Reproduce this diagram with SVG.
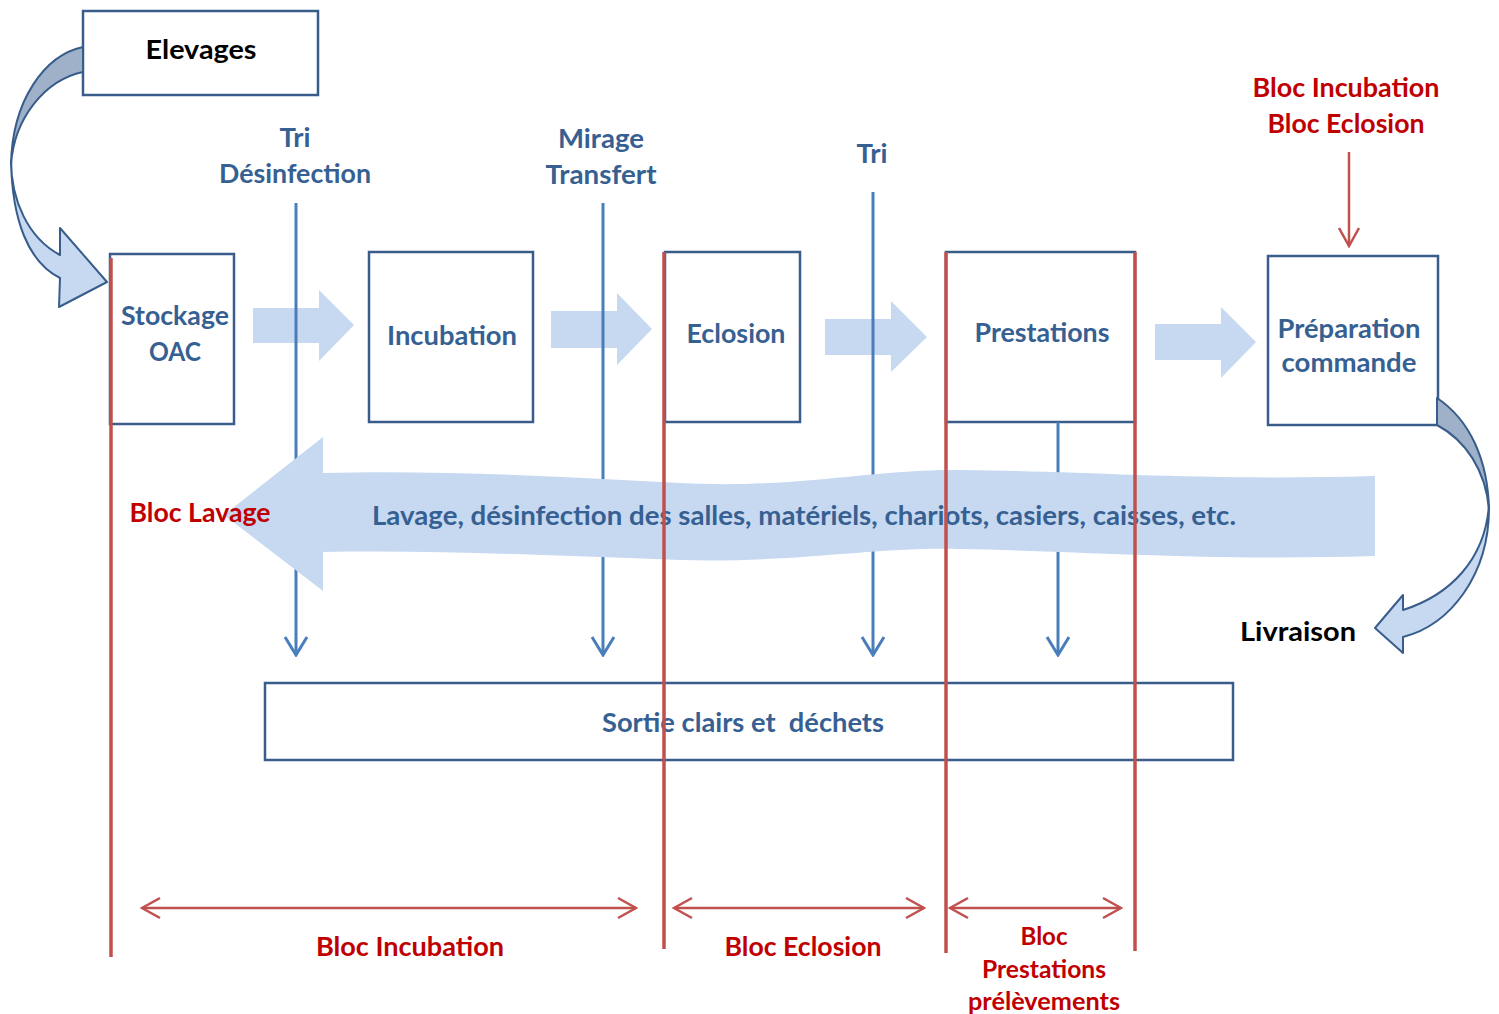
<svg xmlns="http://www.w3.org/2000/svg" width="1499" height="1014" viewBox="0 0 1499 1014">
<style>
text{font-family:Lato,"Open Sans","Liberation Sans",sans-serif;font-weight:bold;text-anchor:middle}
.box{fill:#fff;stroke:#385d8a;stroke-width:2.5}
.bt{fill:#376092;font-size:27px}
.rt{fill:#c00000;font-size:26px}
.kt{fill:#000;font-size:27px}
.blk{fill:#c6d9f1}
.bl{stroke:#4a7ebb;stroke-width:3;fill:none}
.rl{stroke:#c0504d;stroke-width:3.5;fill:none}
.cv{stroke:#385d8a;stroke-width:2;stroke-linejoin:round}
</style>
<defs>
<marker id="vb" viewBox="-21 -13 23 26" markerWidth="23" markerHeight="26" refX="0" refY="0" orient="auto" markerUnits="userSpaceOnUse">
<path d="M-18,-11 L0,0 L-18,11" fill="none" stroke="#4a7ebb" stroke-width="3"/>
</marker>
<marker id="vr" viewBox="-21 -13 23 26" markerWidth="23" markerHeight="26" refX="0" refY="0" orient="auto-start-reverse" markerUnits="userSpaceOnUse">
<path d="M-18,-10 L0,0 L-18,10" fill="none" stroke="#c0504d" stroke-width="2.5"/>
</marker>
</defs>
<rect width="1499" height="1014" fill="#fff"/>

<g id="elevages"><rect class="box" x="83" y="11" width="235" height="84"/><text class="kt" x="201" y="59" textLength="111" lengthAdjust="spacingAndGlyphs">Elevages</text></g>
<g id="stockage"><rect class="box" x="110" y="254" width="124" height="170"/><text class="bt" x="175" y="325" textLength="108" lengthAdjust="spacingAndGlyphs">Stockage</text><text class="bt" x="175" y="361" textLength="52" lengthAdjust="spacingAndGlyphs">OAC</text></g>
<g id="incubation"><rect class="box" x="369" y="252" width="164" height="170"/><text class="bt" x="452" y="345" textLength="130" lengthAdjust="spacingAndGlyphs">Incubation</text></g>
<g id="eclosion"><rect class="box" x="665" y="252" width="135" height="170"/><text class="bt" x="736" y="343" textLength="99" lengthAdjust="spacingAndGlyphs">Eclosion</text></g>
<g id="prestations"><rect class="box" x="946" y="252" width="189" height="170"/><text class="bt" x="1042" y="342" textLength="135" lengthAdjust="spacingAndGlyphs">Prestations</text></g>
<g id="preparation"><rect class="box" x="1268" y="256" width="170" height="169"/><text class="bt" x="1349" y="338" textLength="143" lengthAdjust="spacingAndGlyphs">Préparation</text><text class="bt" x="1349" y="372" textLength="135" lengthAdjust="spacingAndGlyphs">commande</text></g>

<g id="flow-arrows">
<path class="blk" d="M253,308 H319 V290 L354,325 L319,361 V343 H253 Z"/>
<path class="blk" d="M551,311 H617 V293 L652,329 L617,365 V348 H551 Z"/>
<path class="blk" d="M825,319 H891 V301 L927,337 L891,372 V355 H825 Z"/>
<path class="blk" d="M1155,324 H1221 V307 L1256,342 L1221,378 V360 H1155 Z"/>
</g>

<g id="connectors">
<path class="bl" d="M296,203 V655" marker-end="url(#vb)"/>
<path class="bl" d="M603,203 V655" marker-end="url(#vb)"/>
<path class="bl" d="M873,192 V655" marker-end="url(#vb)"/>
<path class="bl" d="M1058,422 V655" marker-end="url(#vb)"/>
</g>

<g id="lavage">
<path class="blk" d="M224,515 L323,437 L323,473 C450,470 560,477 680,483 C800,489 870,469 960,470 C1080,471 1200,481 1375,476 L1375,556 C1200,561 1080,551 960,549 C870,547 800,563 680,560 C560,556 450,550 323,552 L323,591 Z"/>
<text class="bt" x="804" y="525" style="font-size:26px" textLength="864" lengthAdjust="spacingAndGlyphs">Lavage, désinfection des salles, matériels, chariots, casiers, caisses, etc.</text>
</g>

<g id="curve-in">
<path class="cv" fill="#9fb1c9" d="M83,47 C45,55 12,100 11,165 C14,118 45,80 83,72 Z"/>
<path class="cv" fill="#c6d9f1" d="M11,160 C11,200 28,238 60,255 L60,228 L107,282 L59,307 L60,278 C28,262 12,220 11,160 Z"/>
</g>
<g id="curve-out">
<path class="cv" fill="#9fb1c9" d="M1437,398 C1470,420 1488,460 1489,510 C1486,470 1465,440 1437,425 Z"/>
<path class="cv" fill="#c6d9f1" d="M1489,505 C1490,575 1450,625 1403,637 L1403,653 L1375,628 L1403,595 L1403,610 C1450,595 1485,560 1489,505 Z"/>
</g>

<g id="sortie"><rect class="box" x="265" y="683" width="968" height="77"/><text class="bt" x="743" y="732" style="white-space:pre" textLength="282" lengthAdjust="spacingAndGlyphs">Sortie clairs et  déchets</text></g>

<g id="labels">
<text class="bt" x="295" y="147" textLength="31" lengthAdjust="spacingAndGlyphs">Tri</text>
<text class="bt" x="295" y="183" textLength="152" lengthAdjust="spacingAndGlyphs">Désinfection</text>
<text class="bt" x="601" y="148" textLength="86" lengthAdjust="spacingAndGlyphs">Mirage</text>
<text class="bt" x="601" y="184" textLength="111" lengthAdjust="spacingAndGlyphs">Transfert</text>
<text class="bt" x="872" y="163" textLength="31" lengthAdjust="spacingAndGlyphs">Tri</text>
<text class="rt" x="1346" y="97" textLength="187" lengthAdjust="spacingAndGlyphs">Bloc Incubation</text>
<text class="rt" x="1346" y="133" textLength="157" lengthAdjust="spacingAndGlyphs">Bloc Eclosion</text>
<text class="rt" x="200" y="522" textLength="141" lengthAdjust="spacingAndGlyphs">Bloc Lavage</text>
<text class="kt" x="1298" y="641" textLength="116" lengthAdjust="spacingAndGlyphs">Livraison</text>
<text class="rt" x="410" y="956" textLength="188" lengthAdjust="spacingAndGlyphs">Bloc Incubation</text>
<text class="rt" x="803" y="956" textLength="157" lengthAdjust="spacingAndGlyphs">Bloc Eclosion</text>
<text class="rt" x="1044" y="945" style="font-size:24px" textLength="47" lengthAdjust="spacingAndGlyphs">Bloc</text>
<text class="rt" x="1044" y="978" style="font-size:24px" textLength="124" lengthAdjust="spacingAndGlyphs">Prestations</text>
<text class="rt" x="1044" y="1010" style="font-size:24px" textLength="152" lengthAdjust="spacingAndGlyphs">prélèvements</text>
</g>

<g id="blocs">
<path class="rl" d="M111,258 V957"/>
<path class="rl" d="M664,252 V949"/>
<path class="rl" d="M946,252 V953"/>
<path class="rl" d="M1135,252 V951"/>
<path class="rl" style="stroke-width:2.5" d="M1349,152 V246" marker-end="url(#vr)"/>
<path class="rl" style="stroke-width:2.5" d="M142,908 H636" marker-start="url(#vr)" marker-end="url(#vr)"/>
<path class="rl" style="stroke-width:2.5" d="M674,908 H924" marker-start="url(#vr)" marker-end="url(#vr)"/>
<path class="rl" style="stroke-width:2.5" d="M950,908 H1121" marker-start="url(#vr)" marker-end="url(#vr)"/>
</g>
</svg>
